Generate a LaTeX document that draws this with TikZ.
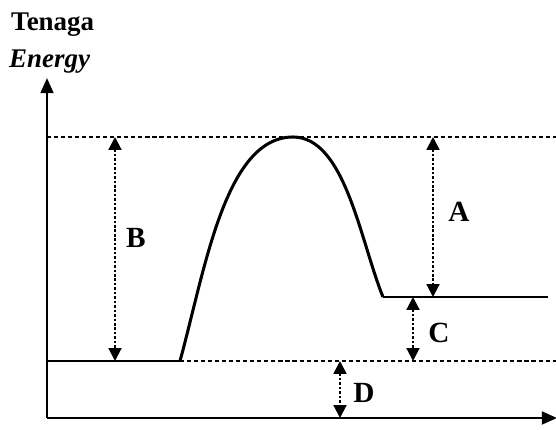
\documentclass[tikz,border=0pt]{standalone}
\usepackage{fontspec}
\setmainfont{Liberation Serif}
\usetikzlibrary{arrows.meta}
\begin{document}
\begin{tikzpicture}[x=0.03cm,y=-0.03cm,
  axis/.style={line width=2pt,-{Triangle[length=13pt,width=11pt]}},
  level/.style={line width=2pt},
  guide/.style={line width=1.4pt,dash pattern=on 3.5pt off 2.5pt},
  gap/.style={line width=1.8pt,dash pattern=on 2.2pt off 1.6pt,{Triangle[length=11pt,width=11pt]}-{Triangle[length=11pt,width=11pt]}},
  lbl/.style={font=\fontsize{25}{30}\selectfont\bfseries,inner sep=0pt},
  ttl/.style={font=\fontsize{23}{27}\selectfont\bfseries,inner sep=0pt},
  curve/.style={line width=2.6pt}]
\useasboundingbox (0,0) rectangle (556,430);
% axes
\coordinate (O) at (47,418);
\coordinate (Ytop) at (47,78);
\coordinate (Xend) at (557,418);
\draw[axis] (O) -- (Ytop);
\draw[axis] (O) -- (Xend);
\node[ttl,anchor=west] (ten) at (11,25) {Tenaga};
\node[ttl,anchor=west] (en) at (9,62) {\itshape Energy};
% levels
\coordinate (peakL) at (47,137);
\coordinate (peakR) at (556,137);
\coordinate (rL) at (47,361);
\coordinate (rR) at (180,361);
\coordinate (rE) at (556,361);
\coordinate (pL) at (383,297);
\coordinate (pR) at (548,297);
\coordinate (peak) at (293,137);
\draw[guide] (peakL) -- (peakR);
\draw[guide] (rR) -- (rE);
\draw[level] (rL) -- (rR);
\draw[level] (pL) -- (pR);
\draw[curve] (rR) .. controls (205,270) and (225,137) .. (peak) .. controls (345,137) and (360,240) .. (pL);
% gaps
\coordinate (Bt) at (115,137); \coordinate (Bb) at (115,361);
\coordinate (At) at (433,137); \coordinate (Ab) at (433,297);
\coordinate (Ct) at (413,297); \coordinate (Cb) at (413,361);
\coordinate (Dt) at (340,361); \coordinate (Db) at (340,418);
\draw[gap] (Bt) -- (Bb);
\draw[gap] (At) -- (Ab);
\draw[gap] (Ct) -- (Cb);
\draw[gap] (Dt) -- (Db);
\node[lbl] (B) at (136,238) {B};
\node[lbl] (A) at (459,212) {A};
\node[lbl] (C) at (439,333) {C};
\node[lbl] (D) at (364,393) {D};
\end{tikzpicture}
\end{document}
